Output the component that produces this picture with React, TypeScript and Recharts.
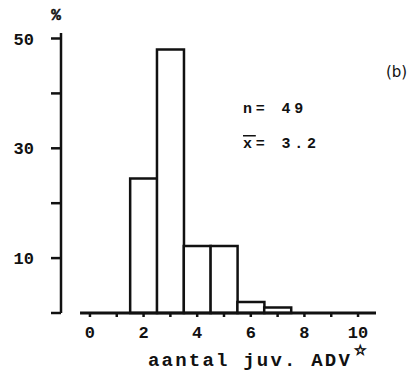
import { BarChart, Bar, XAxis, YAxis, ReferenceLine } from 'recharts';

// aantal juveniele ADV per nest, percentage (n = 49)
const bins = [2, 3, 4, 5, 6, 7];
const percent = [24.5, 48, 12.2, 12.2, 2, 1];
const xTicks = [0, 1, 2, 3, 4, 5, 6, 7, 8, 9, 10];
const xLabelled = [0, 2, 4, 6, 8, 10];
const yTicks = [0, 10, 20, 30, 40, 50];
const yLabelled = [10, 30, 50];

const data = bins.map((b, i) => ({ bin: b, pct: percent[i] }));

const font = '"Liberation Mono", "DejaVu Sans Mono", monospace';
const tickStyle = { fontFamily: font, fontSize: 17, fontWeight: 700, fill: '#111' };

const App = () => {
  return (
    <div style={{ position: 'absolute', left: 0, top: 0, width: 420, height: 375, background: '#fff' }}>
      <BarChart width={420} height={375} data={data} margin={{ top: 33, right: 44, bottom: 32, left: 0 }}
        barCategoryGap={0} barGap={0}>
        <XAxis type='number' dataKey='bin' domain={[-1.08, 10.67]} allowDataOverflow ticks={xTicks}
          tickFormatter={(v) => (xLabelled.includes(v) ? String(v) : '')}
          axisLine={false} tickSize={4} tickMargin={9} height={30}
          tickLine={{ stroke: '#111', strokeWidth: 2.5 }} tick={tickStyle} />
        <YAxis type='number' domain={[0, 51]} ticks={yTicks} width={61}
          tickFormatter={(v) => (yLabelled.includes(v) ? String(v) : '')}
          tickSize={10} tickMargin={17}
          axisLine={{ stroke: '#111', strokeWidth: 2.5 }}
          tickLine={{ stroke: '#111', strokeWidth: 2.5 }} tick={tickStyle} />
        <ReferenceLine segment={[{ x: -0.37, y: 0 }, { x: 10.67, y: 0 }]} stroke='#111' strokeWidth={3} ifOverflow='visible' />
        <Bar dataKey='pct' fill='#fff' stroke='#111' strokeWidth={2.5} isAnimationActive={false} />
      </BarChart>
      <svg width={420} height={375} style={{ position: 'absolute', left: 0, top: 0, pointerEvents: 'none' }}>
        <g fontFamily={font} fontWeight={700} fill='#111'>
          <text x={56} y={20} fontSize={16} textAnchor='middle' stroke='#111' strokeWidth={0.5}>%</text>
          <text x={386} y={77} fontSize={15} fontFamily='"DejaVu Sans", sans-serif' fontWeight={400}>(b)</text>
          <text x={243} y={113} fontSize={15} letterSpacing={3.8}>n= 49</text>
          <text x={243} y={148} fontSize={15} letterSpacing={3.8}><tspan textDecoration='overline'>x</tspan>= 3.2</text>
          <text x={148} y={366} fontSize={19} letterSpacing={2.2}>aantal juv. ADV</text>
          <text x={354} y={355} fontSize={14} fontFamily='"DejaVu Sans", sans-serif' fontWeight={700}
            stroke='#111' strokeWidth={0.8}>☆</text>
        </g>
      </svg>
    </div>
  );
};

export default App;
